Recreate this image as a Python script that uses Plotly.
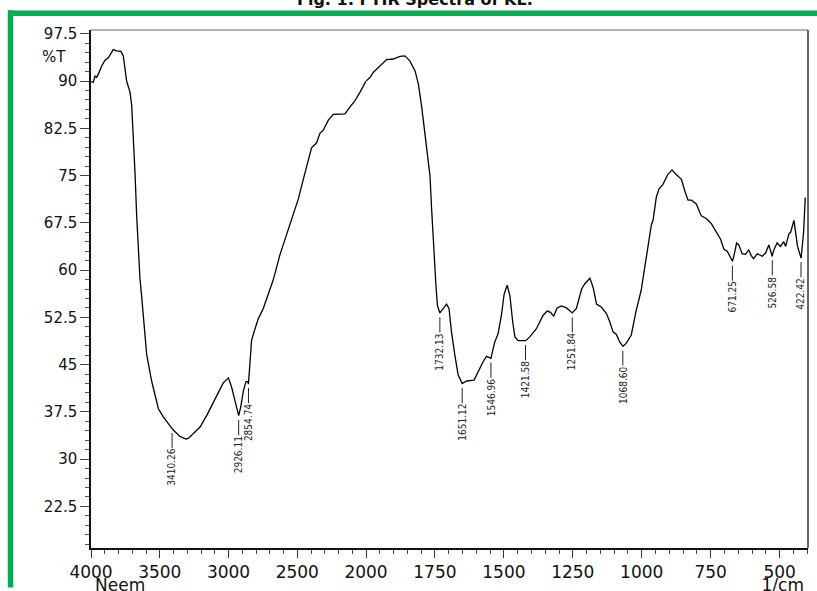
import numpy as np
import plotly.graph_objects as go

# ---- spectrum data (wavenumber 1/cm, %T) ----
wn_hi = [4000, 3983, 3971, 3959, 3947, 3922, 3898, 3874, 3838, 3813, 3782, 3765, 3741, 3716,
         3704, 3692, 3680, 3668, 3656, 3644, 3632, 3620, 3607, 3595, 3559, 3510, 3474, 3438,
         3405, 3353, 3309, 3292, 3256, 3207, 3159, 3110, 3074, 3038, 3001, 2977, 2953, 2926,
         2911, 2892, 2873, 2861, 2855, 2844, 2832, 2807, 2783, 2747, 2722, 2674, 2625, 2565,
         2492, 2456, 2420, 2396, 2359, 2335, 2311, 2274, 2238, 2189, 2153, 2116, 2080, 2044,
         2007, 2000]
t_hi = [89.9, 89.8, 90.8, 90.6, 91.1, 92.4, 93.3, 93.7, 95.0, 94.8, 94.7, 94.0, 90.0, 88.2,
        86.1, 81.7, 75.5, 68.7, 62.5, 58.7, 55.9, 52.8, 49.7, 46.6, 42.4, 38.0, 36.7, 35.6,
        34.7, 33.6, 33.2, 33.3, 34.1, 35.1, 36.9, 39.0, 40.3, 42.1, 42.9, 41.4, 39.3, 36.9,
        38.3, 40.8, 42.3, 42.3, 41.9, 45.5, 48.9, 50.7, 52.3, 53.9, 55.4, 58.5, 62.5, 66.4,
        71.3, 74.4, 77.5, 79.4, 80.2, 81.7, 82.2, 83.8, 84.7, 84.7, 84.8, 85.9, 86.9, 88.2,
        89.8, 90.0]

wn_lo = [2000, 1985, 1973, 1949, 1925, 1901, 1877, 1859, 1841, 1822, 1810, 1798, 1786, 1780,
         1768, 1762, 1756, 1752, 1747, 1741, 1732, 1720, 1708, 1699, 1690, 1678, 1666, 1651,
         1635, 1608, 1593, 1575, 1563, 1547, 1533, 1521, 1509, 1499, 1488, 1478, 1468, 1460,
         1448, 1421, 1406, 1382, 1358, 1343, 1331, 1319, 1307, 1291, 1273, 1252, 1237, 1218,
         1207, 1188, 1176, 1164, 1146, 1128, 1116, 1104, 1092, 1080, 1068, 1056, 1038, 1020,
         1002, 986, 975, 965, 959, 947, 937, 923, 905, 890, 878, 869, 856, 844, 832, 820, 802,
         784, 766, 748, 730, 714, 702, 690, 671, 666, 656, 648, 636, 624, 612, 603, 594, 581,
         563, 551, 539, 527, 521, 509, 497, 485, 478, 466, 460, 448, 435, 422, 413, 407]
t_lo = [90.0, 90.6, 91.4, 92.4, 93.4, 93.5, 93.9, 94.0, 93.2, 91.6, 89.5, 85.9, 81.7, 78.9,
        75.0, 69.7, 64.5, 62.5, 58.0, 54.4, 53.2, 53.9, 54.6, 53.9, 50.2, 46.6, 43.4, 42.0,
        42.4, 42.55, 44.0, 45.5, 46.3, 46.0, 48.6, 49.9, 52.8, 56.2, 57.6, 55.9, 51.8, 49.4,
        48.8, 48.8, 49.4, 50.7, 52.8, 53.5, 53.3, 52.7, 54.0, 54.3, 54.0, 53.2, 53.9, 57.0,
        57.8, 58.7, 57.2, 54.6, 54.1, 53.1, 51.8, 50.2, 49.8, 48.6, 47.9, 48.4, 49.7, 53.6,
        56.8, 61.5, 65.0, 67.2, 67.9, 71.6, 72.9, 73.6, 75.2, 75.9, 75.3, 74.95, 74.4, 72.6,
        71.1, 71.1, 70.5, 68.6, 68.2, 67.4, 66.1, 64.9, 63.3, 63.0, 61.4, 62.2, 64.3, 64.0,
        62.6, 62.5, 63.2, 62.3, 61.8, 62.6, 62.2, 62.7, 64.0, 62.2, 63.2, 64.3, 63.75, 64.5,
        63.75, 65.8, 66.0, 67.9, 63.75, 61.9, 66.0, 71.5]

# ---- peak labels ----
peak_wn = [3410.26, 2926.11, 2854.74, 1732.13, 1651.12, 1546.96, 1421.58, 1251.84,
           1068.60, 671.25, 526.58, 422.42]
peak_txt = ["3410.26", "2926.11", "2854.74", "1732.13", "1651.12", "1546.96", "1421.58",
            "1251.84", "1068.60", "671.25", "526.58", "422.42"]

# ---- axis ticks ----
x_hi_ticks = [4000, 3500, 3000, 2500]
x_lo_ticks = [2000, 1750, 1500, 1250, 1000, 750, 500]
y_ticks = [22.5, 30, 37.5, 45, 52.5, 60, 67.5, 75, 82.5, 90, 97.5]
y_ticktext = ["22.5", "30", "37.5", "45", "52.5", "60", "67.5", "75", "82.5", "90", "97.5"]

W, H = 817, 591
ML, MR, MT, MB = 91, 9, 30, 35
pw = W - ML - MR
ph = H - MT - MB
split = (366 - ML) / pw
Y0, Y1 = 15.9, 98.1


def px_x(p):
    return (p - ML) / pw


def px_y(p):
    return (H - MB - p) / ph


tickfont = dict(family="DejaVu Sans, Arial", size=17, color="#111")
yfont = dict(family="DejaVu Sans, Arial", size=15, color="#111")
lblfont = dict(family="Liberation Sans Narrow, DejaVu Sans Condensed, Arial Narrow, sans-serif",
               size=10, color="#222")

fig = go.Figure()
fig.add_trace(go.Scatter(x=wn_hi, y=t_hi, mode="lines", xaxis="x", yaxis="y",
                         line=dict(color="black", width=1.3), showlegend=False))
fig.add_trace(go.Scatter(x=wn_lo, y=t_lo, mode="lines", xaxis="x2", yaxis="y",
                         line=dict(color="black", width=1.3), showlegend=False))

all_wn = np.array(wn_hi[:-1] + wn_lo)
all_t = np.array(t_hi[:-1] + t_lo)
order = np.argsort(all_wn)
gap, stem = 0.7, 2.4
shapes = []
annotations = []
for w, txt in zip(peak_wn, peak_txt):
    tv = float(np.interp(w, all_wn[order], all_t[order]))
    xr = "x" if w > 2000 else "x2"
    top = tv - gap
    bot = top - stem
    shapes.append(dict(type="line", xref=xr, yref="y", x0=w, x1=w, y0=top, y1=bot,
                       line=dict(color="#222", width=1)))
    annotations.append(dict(x=w, y=bot, xref=xr, yref="y", text=txt, showarrow=False,
                            textangle=-90, xanchor="center", yanchor="top", font=lblfont,
                            borderpad=0))

annotations += [
    dict(x=px_x(68), y=93.8, xref="paper", yref="y", text="%T",
         showarrow=False, xanchor="right", yanchor="middle", font=yfont),
    dict(x=px_x(415), y=px_y(11), xref="paper",
         yref="paper", text="<b>Fig. 1: FTIR Spectra of KL.</b>", showarrow=False,
         xanchor="center", yanchor="bottom",
         font=dict(family="DejaVu Sans, Arial", size=16, color="#111")),
]

# captions under the tick labels, carried as shape labels (not shifted into view)
clear = "rgba(0,0,0,0)"
shapes += [
    dict(type="rect", xref="paper", yref="paper", x0=px_x(89), x1=px_x(200),
         y0=px_y(601), y1=px_y(585), line=dict(width=0), fillcolor=clear,
         label=dict(text="Neem", textposition="middle left", font=tickfont, padding=3)),
    dict(type="rect", xref="paper", yref="paper", x0=px_x(700), x1=px_x(810),
         y0=px_y(601), y1=px_y(585), line=dict(width=0), fillcolor=clear,
         label=dict(text="1/cm", textposition="middle right", font=tickfont, padding=3)),
]

green = "#00B050"
shapes += [
    dict(type="line", xref="paper", yref="paper", x0=px_x(10.5), x1=px_x(10.5),
         y0=px_y(10), y1=px_y(H + 5), line=dict(color=green, width=5.5)),
    dict(type="line", xref="paper", yref="paper", x0=px_x(8), x1=px_x(W + 5),
         y0=px_y(13), y1=px_y(13), line=dict(color=green, width=5.5)),
    dict(type="line", xref="paper", yref="paper", x0=0, x1=1, y0=1, y1=1,
         line=dict(color="#9a9a9a", width=1.5)),
    dict(type="line", xref="paper", yref="paper", x0=1, x1=1, y0=0, y1=1,
         line=dict(color="#333", width=1.5)),
]

common_x = dict(showgrid=False, zeroline=False, showline=True, linecolor="#111", linewidth=1.5,
                ticks="outside", ticklen=8, tickwidth=1.2, tickcolor="#333", tickfont=tickfont,
                anchor="y")
fig.update_layout(
    width=W, height=H, margin=dict(l=ML, r=MR, t=MT, b=MB),
    paper_bgcolor="white", plot_bgcolor="white",
    xaxis=dict(domain=[0, split], range=[4000, 2000], tickmode="array", tickvals=x_hi_ticks,
               minor=dict(ticks="outside", ticklen=4, tickmode="linear", tick0=0, dtick=100,
                          tickcolor="#444"), **common_x),
    xaxis2=dict(domain=[split, 1], range=[2000, 397], tickmode="array", tickvals=x_lo_ticks,
                minor=dict(ticks="outside", ticklen=4, tickmode="linear", tick0=0, dtick=50,
                           tickcolor="#444"), **common_x),
    yaxis=dict(range=[Y0, Y1], tickmode="array", tickvals=y_ticks, ticktext=y_ticktext,
               showgrid=False, zeroline=False, showline=True, linecolor="#111", linewidth=1.5,
               ticks="outside", ticklen=9, tickwidth=1.2, tickcolor="#444", tickfont=yfont,
               minor=dict(ticks="outside", ticklen=4, tickmode="linear", tick0=0, dtick=1.5,
                          tickcolor="#555")),
    shapes=shapes, annotations=annotations,
)
fig.write_html("out.html")
